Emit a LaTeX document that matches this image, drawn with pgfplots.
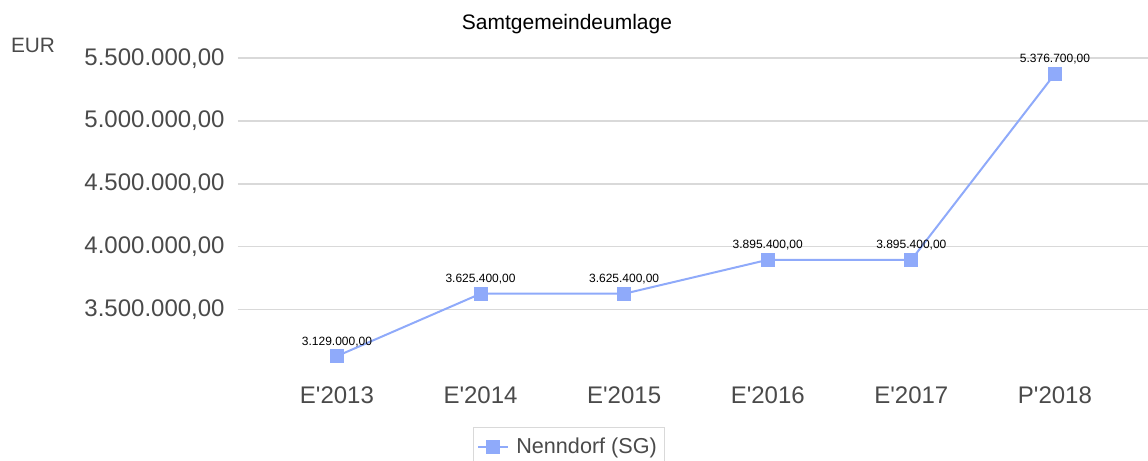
\documentclass[border=0pt]{standalone}
\usepackage{fontspec}
\setmainfont{Liberation Sans}[Ligatures=TeXOff]
\usepackage{pgfplots}
\pgfplotsset{compat=1.18}
\definecolor{serie}{HTML}{8FAAFA}
\definecolor{gridgray}{HTML}{D9D9D9}
\definecolor{ticktext}{HTML}{4A4A4A}

\begin{document}
\begin{tikzpicture}
\useasboundingbox (0pt,0pt) rectangle (574pt,-230.5pt);
\node[anchor=base, font=\fontsize{10.5pt}{12pt}\selectfont] at (283.5pt,-14.5pt) {Samtgemeindeumlage};
\node[font=\fontsize{10.4pt}{12pt}\selectfont, text=ticktext] at (16.5pt,-22.5pt) {EUR};
\begin{axis}[
  at={(119pt,-186.15pt)}, anchor=south west,
  scale only axis, width=455pt, height=163.3pt,
  xmin=-0.689, xmax=5.648,
  ymin=3000000, ymax=5600000,
  xtick={0,1,2,3,4,5},
  xticklabels={E'2013,E'2014,E'2015,E'2016,E'2017,P'2018},
  ytick={3500000,4000000,4500000,5000000,5500000},
  scaled y ticks=false,
  axis line style={draw=none},
  major tick length=0pt,
  ymajorgrids, grid style={draw=gridgray, line width=0.8pt},
  /pgf/number format/.cd, fixed, fixed zerofill, precision=2, use comma, 1000 sep={.}, assume math mode=true, /pgfplots/.cd,
  yticklabel style={font=\fontsize{12pt}{14pt}\selectfont, text=ticktext, anchor=east, inner sep=0pt, xshift=-6.5pt},
  xticklabel style={font=\fontsize{12pt}{14pt}\selectfont, text=ticktext, anchor=north, inner sep=0pt, yshift=-6.85pt},
  nodes near coords,
  every node near coord/.append style={font=\fontsize{6pt}{7pt}\selectfont, text=black, anchor=base, inner sep=0pt, yshift=5.5pt},
  legend style={at={(axis description cs:0.258,-0.1675)}, anchor=north west,
    draw=gridgray, line width=0.6pt, font=\fontsize{10.8pt}{13pt}\selectfont, text=ticktext,
    inner xsep=2pt, inner ysep=3pt},
  legend image code/.code={\draw[#1, mark=none] (0pt,0pt) -- (15pt,0pt);
    \draw[#1, only marks] plot coordinates {(7.5pt,0pt)};
    \path (16.5pt,0pt);},
  clip=false,
]
\addplot[color=serie, line width=1pt, mark=square*, mark size=3.25pt,
  mark options={fill=serie, draw=serie, line width=0pt}]
  coordinates {(0,3129000) (1,3625400) (2,3625400) (3,3895400) (4,3895400) (5,5376700)};
\addlegendentry{Nenndorf (SG)}
\end{axis}
\end{tikzpicture}
\end{document}
